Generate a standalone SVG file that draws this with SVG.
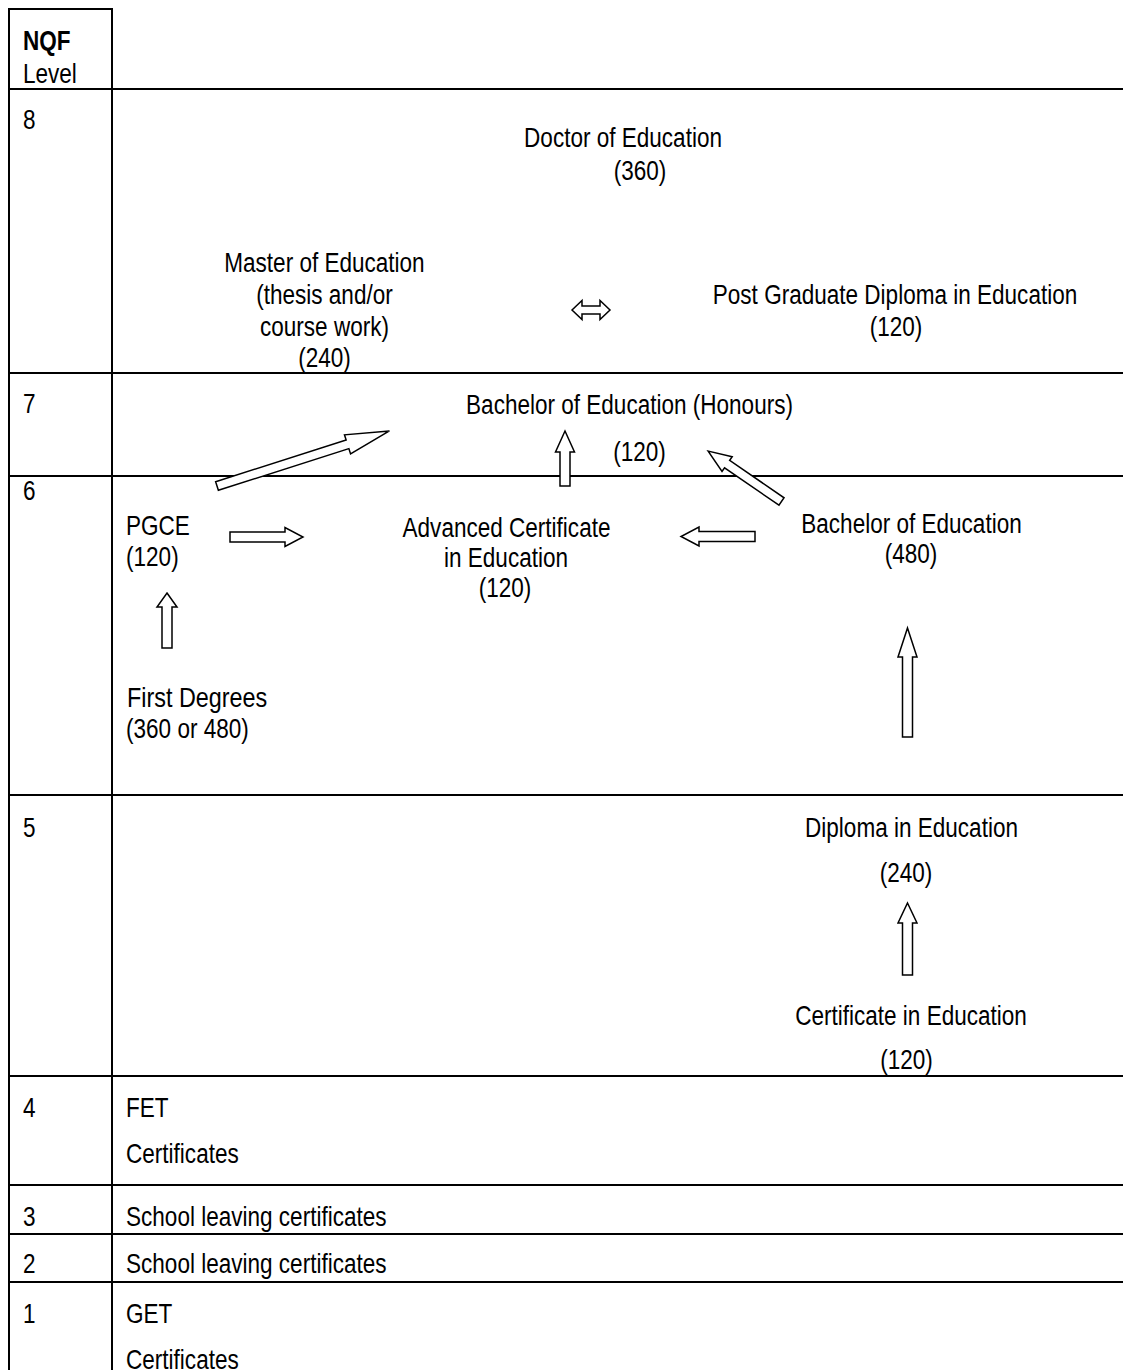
<svg xmlns="http://www.w3.org/2000/svg" width="1123" height="1370" viewBox="0 0 1123 1370">
<style>
.grid{stroke:#000;stroke-width:2;fill:none}
.t{font-family:'Liberation Sans','Arial',sans-serif;font-size:27.5px;fill:#000}
.c{text-anchor:middle}
.b{font-weight:bold}
.big{font-size:28.5px}
.arrow{fill:#fff;stroke:#000;stroke-width:1.5;stroke-linejoin:miter}
</style>
<rect width="1123" height="1370" fill="#fff"/>
<g id="grid">
<line class="grid" x1="9" y1="9" x2="113" y2="9"/>
<line class="grid" x1="9" y1="8" x2="9" y2="1370"/>
<line class="grid" x1="112" y1="8" x2="112" y2="1370"/>
<line class="grid" x1="8" y1="89" x2="1123" y2="89"/>
<line class="grid" x1="8" y1="373" x2="1123" y2="373"/>
<line class="grid" x1="8" y1="476" x2="1123" y2="476"/>
<line class="grid" x1="8" y1="795" x2="1123" y2="795"/>
<line class="grid" x1="8" y1="1076" x2="1123" y2="1076"/>
<line class="grid" x1="8" y1="1185" x2="1123" y2="1185"/>
<line class="grid" x1="8" y1="1234" x2="1123" y2="1234"/>
<line class="grid" x1="8" y1="1282" x2="1123" y2="1282"/>
</g>
<g id="levels" transform="scale(0.82 1)">
<text class="t b" x="28" y="50">NQF</text>
<text class="t" x="28" y="83">Level</text>
<text class="t" x="28" y="129">8</text>
<text class="t" x="28" y="413">7</text>
<text class="t" x="28" y="500">6</text>
<text class="t" x="28" y="837">5</text>
<text class="t" x="28" y="1117">4</text>
<text class="t" x="28" y="1226">3</text>
<text class="t" x="28" y="1273">2</text>
<text class="t" x="28" y="1323">1</text>
</g>
<g id="doctor" transform="scale(0.82 1)">
<text class="t c" x="759.8" y="147">Doctor of Education</text>
<text class="t c" x="780.5" y="180">(360)</text>
</g>
<g id="master" transform="scale(0.82 1)">
<text class="t c" x="395.7" y="272">Master of Education</text>
<text class="t c" x="395.7" y="304">(thesis and/or</text>
<text class="t c" x="395.7" y="336">course work)</text>
<text class="t c" x="395.7" y="367">(240)</text>
</g>
<g id="pgde" transform="scale(0.82 1)">
<text class="t c" x="1091.5" y="304">Post Graduate Diploma in Education</text>
<text class="t c" x="1092.7" y="336">(120)</text>
</g>
<g id="bed-hons" transform="scale(0.82 1)">
<text class="t c" x="767.7" y="414">Bachelor of Education (Honours)</text>
<text class="t c" x="779.9" y="461">(120)</text>
</g>
<g id="pgce" transform="scale(0.82 1)">
<text class="t" x="153.7" y="535">PGCE</text>
<text class="t" x="153.7" y="566">(120)</text>
</g>
<g id="ace" transform="scale(0.82 1)">
<text class="t c" x="617.7" y="537">Advanced Certificate</text>
<text class="t c" x="617.1" y="567">in Education</text>
<text class="t c" x="615.9" y="597">(120)</text>
</g>
<g id="bed" transform="scale(0.82 1)">
<text class="t c" x="1111.6" y="533">Bachelor of Education</text>
<text class="t c" x="1111" y="563">(480)</text>
</g>
<g id="first-degrees" transform="scale(0.82 1)">
<text class="t big" x="154.9" y="707">First Degrees</text>
<text class="t" x="153.7" y="738">(360 or 480)</text>
</g>
<g id="diploma" transform="scale(0.82 1)">
<text class="t c" x="1111.6" y="837">Diploma in Education</text>
<text class="t c" x="1104.9" y="882">(240)</text>
</g>
<g id="certificate" transform="scale(0.82 1)">
<text class="t c" x="1111" y="1025">Certificate in Education</text>
<text class="t c" x="1105.5" y="1069">(120)</text>
</g>
<g id="fet" transform="scale(0.82 1)">
<text class="t" x="153.7" y="1117">FET</text>
<text class="t" x="153.7" y="1163">Certificates</text>
</g>
<g id="school3" transform="scale(0.82 1)">
<text class="t" x="153.7" y="1226">School leaving certificates</text>
</g>
<g id="school2" transform="scale(0.82 1)">
<text class="t" x="153.7" y="1273">School leaving certificates</text>
</g>
<g id="get" transform="scale(0.82 1)">
<text class="t" x="153.7" y="1323">GET</text>
<text class="t" x="153.7" y="1369">Certificates</text>
</g>
<g id="connectors">
<polygon class="arrow" points="572,310 582,300.5 582,306 600,306 600,300.5 610,310 600,319.5 600,314 582,314 582,319.5"/>
<polygon class="arrow" transform="translate(217,486) rotate(-17.7)" points="0,-4.5 137,-4.5 137,-10 181,0 137,10 137,4.5 0,4.5"/>
<polygon class="arrow" transform="translate(781.5,501.5) rotate(-145.5)" points="0,-4.5 66,-4.5 66,-9 89,0 66,9 66,4.5 0,4.5"/>
<polygon class="arrow" points="565,431 574.5,452 570,452 570,486 560,486 560,452 555.5,452"/>
<polygon class="arrow" points="230,532 285,532 285,527.5 303,537 285,546.5 285,542 230,542"/>
<polygon class="arrow" points="755,531.5 699,531.5 699,527 681,536.5 699,546 699,541.5 755,541.5"/>
<polygon class="arrow" points="167,593 177,607 172,607 172,648 162,648 162,607 157,607"/>
<polygon class="arrow" points="907.5,628 917,657 912.5,657 912.5,737 902.5,737 902.5,657 898,657"/>
<polygon class="arrow" points="907.5,903 917,923 912.5,923 912.5,975 902.5,975 902.5,923 898,923"/>
</g>
</svg>
